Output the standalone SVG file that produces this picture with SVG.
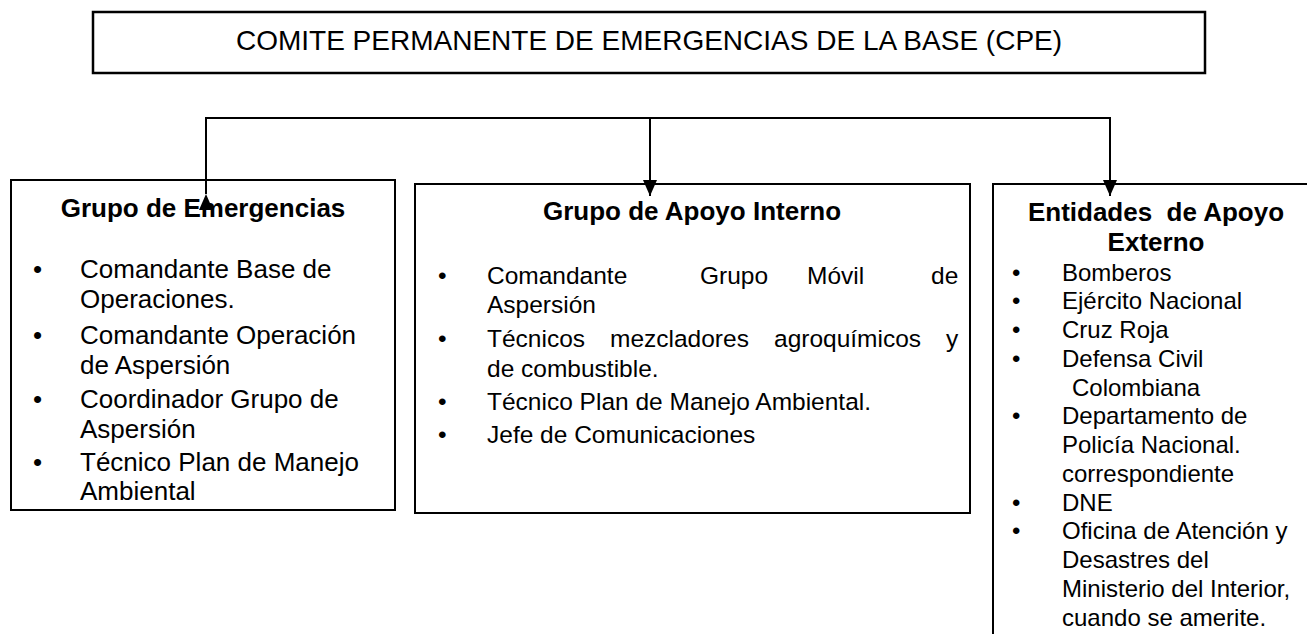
<svg xmlns="http://www.w3.org/2000/svg" width="1307" height="634" viewBox="0 0 1307 634">
<style>
.box{fill:#fff;stroke:#000;stroke-width:2}
.top{fill:#fff;stroke:#000;stroke-width:2.5}
text{font-family:"Liberation Sans",Arial,sans-serif;fill:#000}
.h{font-weight:bold;font-size:26px;text-anchor:middle;white-space:pre}
.l1{font-size:26px}
.l2{font-size:24.5px}
.l3{font-size:24px}
.conn{fill:none;stroke:#000;stroke-width:2}
</style>
<defs>
<marker id="arr" markerUnits="userSpaceOnUse" markerWidth="16" markerHeight="14" viewBox="0 0 16 14" refX="16" refY="7" orient="auto">
<path d="M0,0 L16,7 L0,14 z" fill="#000"/>
</marker>
</defs>

<g id="cpe">
<rect class="top" x="93" y="12" width="1112" height="61"/>
<text x="649" y="50" style="font-size:28px;text-anchor:middle">COMITE PERMANENTE DE EMERGENCIAS DE LA BASE (CPE)</text>
</g>

<g id="grupo-emergencias">
<rect class="box" x="11" y="180" width="384" height="330"/>
<text class="h" x="203" y="217">Grupo de Emergencias</text>
<g class="l1">
<text x="33" y="277.5">•</text><text x="80" y="277.5">Comandante Base de</text>
<text x="80" y="308">Operaciones.</text>
<text x="33" y="344">•</text><text x="80" y="344">Comandante Operación</text>
<text x="80" y="374">de Aspersión</text>
<text x="33" y="408">•</text><text x="80" y="408">Coordinador Grupo de</text>
<text x="80" y="438">Aspersión</text>
<text x="33" y="471">•</text><text x="80" y="471">Técnico Plan de Manejo</text>
<text x="80" y="499.6">Ambiental</text>
</g>
</g>

<g id="grupo-apoyo-interno">
<rect class="box" x="415" y="184" width="555" height="329"/>
<text class="h" x="692" y="220">Grupo de Apoyo Interno</text>
<g class="l2">
<text x="438" y="284">•</text><text y="284"><tspan x="487">Comandante</tspan><tspan x="700">Grupo</tspan><tspan x="807">Móvil</tspan><tspan x="931">de</tspan></text>
<text x="487" y="313">Aspersión</text>
<text x="438" y="347">•</text><text y="347"><tspan x="487">Técnicos</tspan><tspan x="610">mezcladores</tspan><tspan x="774">agroquímicos</tspan><tspan x="946">y</tspan></text>
<text x="487" y="377">de combustible.</text>
<text x="438" y="410">•</text><text x="487" y="410">Técnico Plan de Manejo Ambiental.</text>
<text x="438" y="443">•</text><text x="487" y="443">Jefe de Comunicaciones</text>
</g>
</g>

<g id="entidades-apoyo-externo">
<rect class="box" x="993" y="184" width="340" height="480"/>
<text class="h" x="1156" y="221">Entidades  de Apoyo</text>
<text class="h" x="1156" y="251">Externo</text>
<g class="l3">
<text x="1012" y="280.5">•</text><text x="1062" y="280.5">Bomberos</text>
<text x="1012" y="309.3">•</text><text x="1062" y="309.3">Ejército Nacional</text>
<text x="1012" y="338">•</text><text x="1062" y="338">Cruz Roja</text>
<text x="1012" y="366.8">•</text><text x="1062" y="366.8">Defensa Civil</text>
<text x="1072" y="395.5">Colombiana</text>
<text x="1012" y="424.3">•</text><text x="1062" y="424.3">Departamento de</text>
<text x="1062" y="453">Policía Nacional.</text>
<text x="1062" y="481.8">correspondiente</text>
<text x="1012" y="510.5">•</text><text x="1062" y="510.5">DNE</text>
<text x="1012" y="539.3">•</text><text x="1062" y="539.3">Oficina de Atención y</text>
<text x="1062" y="568">Desastres del</text>
<text x="1062" y="596.8">Ministerio del Interior,</text>
<text x="1062" y="625.5">cuando se amerite.</text>
</g>
</g>

<g id="connectors">
<path class="conn" d="M206,194 V118 H1110 V196" marker-start="url(#arr)" marker-end="url(#arr)"/>
<path class="conn" d="M650,118 V196" marker-end="url(#arr)"/>
</g>
</svg>
